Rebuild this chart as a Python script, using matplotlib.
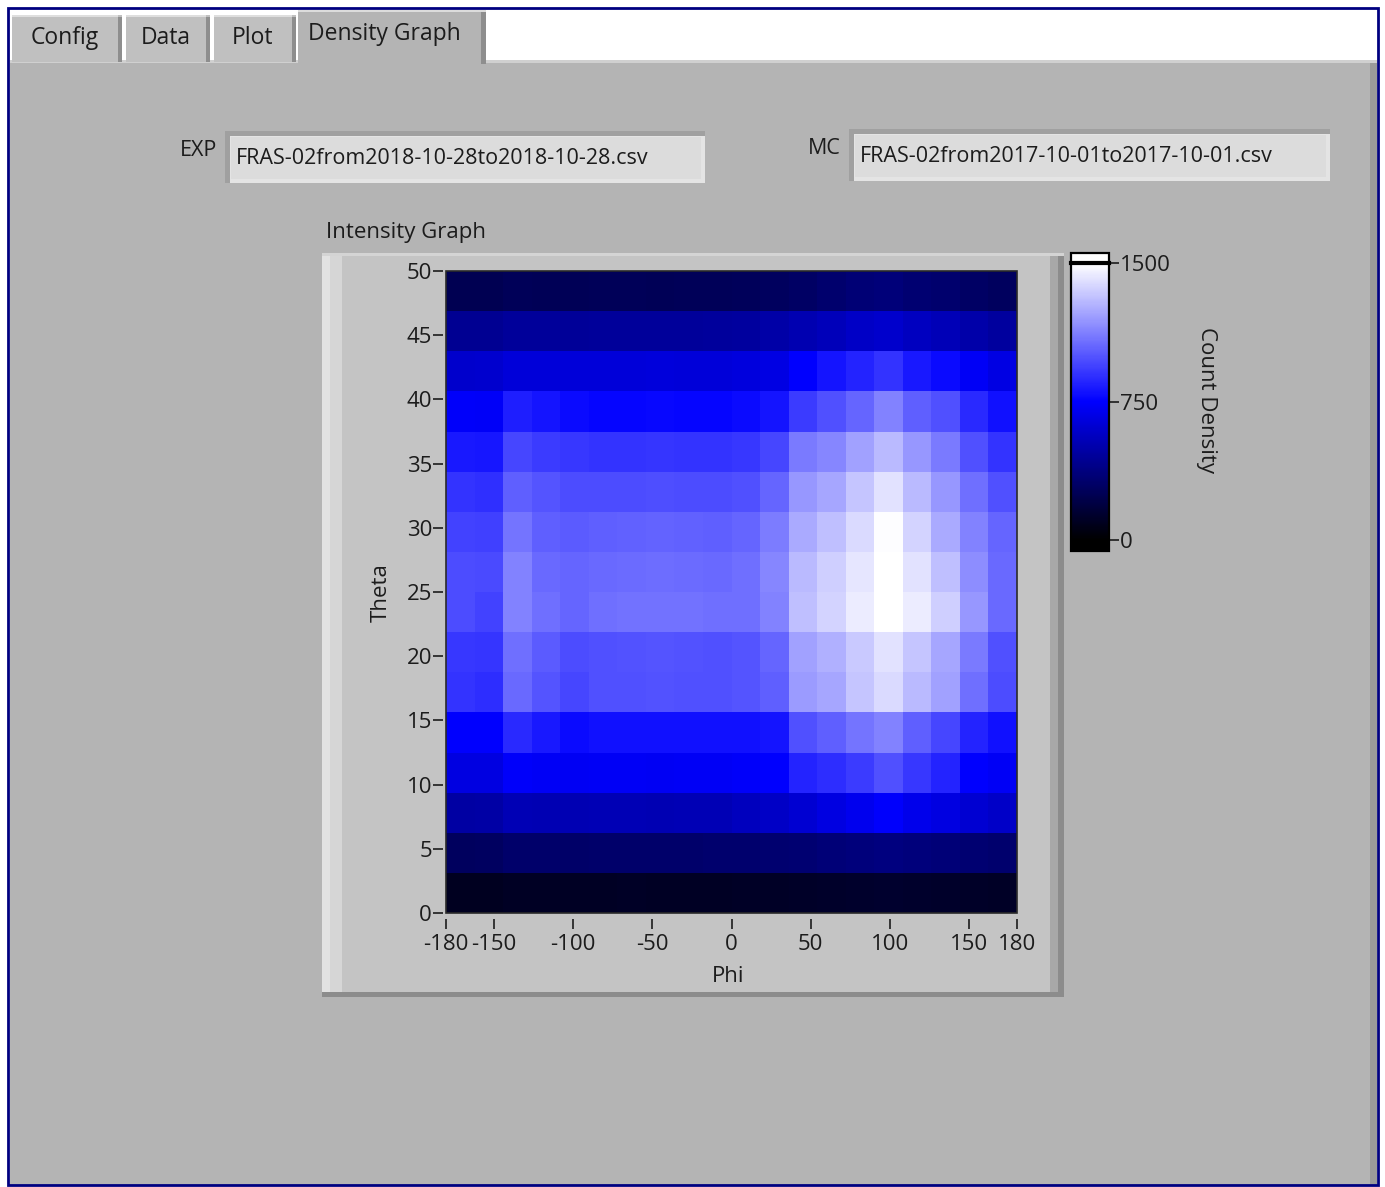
import numpy as np
import matplotlib
matplotlib.use('Agg')
import matplotlib.pyplot as plt
from matplotlib.patches import Rectangle
from matplotlib.colors import LinearSegmentedColormap, Normalize

plt.rcParams['font.family'] = ['Open Sans', 'DejaVu Sans']
plt.rcParams['axes.unicode_minus'] = False

W, H = 1385, 1187

# ---- data, rows from Theta=0 upwards, 20 Phi bins each ----
phi_edges = np.linspace(-180, 180, 21)
theta_edges = np.linspace(0, 50, 17)
count_density = [
    [95, 98, 110, 110, 108, 110, 112, 110, 110, 110, 112, 115, 120, 125, 130, 135, 130, 125, 120, 115],
    [280, 285, 315, 312, 310, 315, 315, 312, 315, 318, 320, 325, 335, 350, 365, 375, 365, 350, 335, 320],
    [480, 485, 535, 530, 528, 532, 532, 530, 532, 536, 560, 580, 620, 660, 700, 740, 690, 660, 620, 590],
    [660, 665, 735, 725, 718, 720, 720, 718, 720, 722, 735, 745, 853, 882, 926, 985, 912, 853, 750, 720],
    [750, 745, 868, 823, 780, 795, 795, 795, 795, 795, 795, 810, 985, 1030, 1090, 1130, 1030, 955, 853, 795],
    [897, 882, 1060, 1000, 955, 985, 985, 990, 985, 985, 1000, 1030, 1205, 1235, 1325, 1385, 1295, 1220, 1075, 970],
    [912, 905, 1075, 1015, 970, 985, 990, 995, 990, 985, 1000, 1045, 1220, 1265, 1340, 1410, 1325, 1235, 1105, 985],
    [970, 940, 1130, 1075, 1045, 1075, 1080, 1085, 1080, 1075, 1075, 1130, 1310, 1370, 1440, 1520, 1440, 1355, 1190, 1060],
    [970, 965, 1130, 1060, 1045, 1060, 1065, 1070, 1065, 1060, 1075, 1145, 1295, 1355, 1425, 1530, 1410, 1310, 1160, 1060],
    [940, 935, 1090, 1030, 1015, 1030, 1035, 1040, 1035, 1030, 1045, 1115, 1250, 1310, 1385, 1490, 1370, 1250, 1130, 1045],
    [897, 890, 1030, 1000, 970, 970, 975, 980, 975, 970, 985, 1045, 1190, 1235, 1325, 1410, 1295, 1190, 1075, 985],
    [823, 815, 955, 926, 912, 897, 900, 905, 900, 897, 912, 955, 1105, 1145, 1220, 1295, 1190, 1105, 985, 897],
    [735, 730, 838, 810, 780, 765, 765, 770, 765, 765, 780, 810, 926, 985, 1045, 1130, 1030, 985, 868, 795],
    [600, 605, 640, 638, 635, 640, 640, 642, 640, 640, 650, 670, 750, 810, 853, 897, 823, 780, 720, 670],
    [430, 432, 455, 452, 450, 455, 455, 452, 455, 458, 470, 490, 520, 545, 580, 600, 565, 540, 500, 470],
    [240, 242, 258, 256, 254, 258, 258, 256, 258, 260, 268, 280, 295, 320, 345, 360, 335, 320, 295, 280],
]
x_ticks = [-180, -150, -100, -50, 0, 50, 100, 150, 180]
y_ticks = [0, 5, 10, 15, 20, 25, 30, 35, 40, 45, 50]
cbar_ticks = [0, 750, 1500]
exp_file = 'FRAS-02from2018-10-28to2018-10-28.csv'
mc_file = 'FRAS-02from2017-10-01to2017-10-01.csv'
tabs = ['Config', 'Data', 'Plot', 'Density Graph']

fig = plt.figure(figsize=(W / 100, H / 100), dpi=100)
fig.patch.set_facecolor('white')


def box(x0, y0, x1, y1, fc, ec='none', lw=0, z=0):
    fig.add_artist(Rectangle((x0 / W, 1 - y1 / H), (x1 - x0) / W, (y1 - y0) / H,
                             transform=fig.transFigure, fc=fc, ec=ec, lw=lw, zorder=z))


def txt(x, y, s, **kw):
    kw.setdefault('fontsize', 16)
    kw.setdefault('color', '#1c1c1c')
    fig.text(x / W, 1 - y / H, s, **kw)


# page and outer border
box(10, 62, 1377, 1185, '#b4b4b4')
box(1370, 62, 1377, 1185, '#9a9a9a')
box(10, 60, 1377, 63, '#d0d0d0')
box(8, 8, 1378, 1185, 'none', ec='#000080', lw=2, z=5)

# tabs
tab_x = [(12, 122), (126, 210), (214, 296)]
for (a, b), name in zip(tab_x, tabs[:3]):
    box(a, 15, b, 62, '#c0c0c0')
    box(b - 4, 17, b, 62, '#8e8e8e')
    box(a, 15, b - 4, 17, '#dedede')
    txt((a + b) / 2 - 2, 38, name, ha='center', va='center', fontsize=16.5)
box(298, 10, 486, 64, '#b4b4b4')
box(298, 10, 486, 12, '#dcdcdc')
box(481, 12, 486, 64, '#8e8e8e')
txt(384, 34, tabs[3], ha='center', va='center', fontsize=16.5)

# file name boxes
for lab, lx, bx0, bx1, by0, by1, name in [('EXP', 198, 227, 703, 133, 181, exp_file),
                                          ('MC', 824, 851, 1328, 131, 179, mc_file)]:
    box(bx0 - 2, by0 - 2, bx1 + 2, by1 + 2, '#a0a0a0')
    box(bx0 + 3, by0 + 3, bx1 + 2, by1 + 2, '#e4e4e4')
    box(bx0 + 4, by0 + 4, bx1 - 2, by1 - 2, '#dcdcdc')
    txt(lx, (by0 + by1) / 2 - 6, lab, ha='center', va='center', fontsize=15.5)
    txt(bx0 + 9, (by0 + by1) / 2 + 2, name, ha='left', va='center', fontsize=15.5)

# graph frame
txt(326, 232, 'Intensity Graph', ha='left', va='center', fontsize=16)
box(322, 253, 1064, 997, '#c4c4c4')
box(322, 253, 330, 997, '#e2e2e2')
box(330, 253, 342, 997, '#d6d6d6')
box(1050, 253, 1058, 997, '#a8a8a8')
box(1058, 253, 1064, 997, '#8c8c8c')
box(322, 992, 1064, 997, '#8c8c8c')
box(322, 253, 1064, 256, '#d4d4d4')

# heat map
vmin, vmax = -60, 1500
span = vmax - vmin
cmap = LinearSegmentedColormap.from_list('lv', [
    (0.0, 'black'), ((0 - vmin) / span, 'black'),
    ((750 - vmin) / span, '#0000ff'), (1.0, 'white')])
cmap.set_over('white')
norm = Normalize(vmin=vmin, vmax=vmax)

ax = fig.add_axes([446 / W, 1 - 913 / H, 571 / W, 642 / H])
mesh = ax.pcolormesh(phi_edges, theta_edges, np.array(count_density), cmap=cmap, norm=norm)
ax.set_xlim(-180, 180)
ax.set_ylim(0, 50)
ax.set_xticks(x_ticks)
ax.set_yticks(y_ticks)
for s in ax.spines.values():
    s.set_visible(False)
ax.spines['bottom'].set_position(('outward', 4))
ax.spines['left'].set_position(('outward', 2))
ax.add_patch(Rectangle((0, 0), 1, 1, transform=ax.transAxes, fill=False,
                       ec='#2a2a2a', lw=1.2, clip_on=False, zorder=5))
ax.tick_params(axis='x', length=7, width=1.2, color='#1c1c1c', pad=4,
               labelsize=16, labelcolor='#1c1c1c')
ax.tick_params(axis='y', length=7, width=1.2, color='#1c1c1c', pad=1,
               labelsize=16, labelcolor='#1c1c1c')
txt(381, 593, 'Theta', ha='center', va='center', rotation=90, fontsize=16)
txt(728, 976, 'Phi', ha='center', va='center', fontsize=16)

# colour scale
cax = fig.add_axes([1071 / W, 1 - 551 / H, 38 / W, 298 / H])
cbar = fig.colorbar(mesh, cax=cax, extend='max', extendrect=True, extendfrac=0.035)
cbar.set_ticks(cbar_ticks)
cbar.outline.set_linewidth(1.6)
cbar.outline.set_edgecolor('black')
cax.axhline(1500, color='black', lw=3, clip_on=False, zorder=6)
cax.tick_params(length=7, width=1.2, color='#1c1c1c', pad=1, labelsize=16,
                labelcolor='#1c1c1c')
txt(1206, 400, 'Count Density', ha='center', va='center', rotation=-90, fontsize=16)

fig.savefig('out.png', dpi=100, facecolor=fig.get_facecolor())
